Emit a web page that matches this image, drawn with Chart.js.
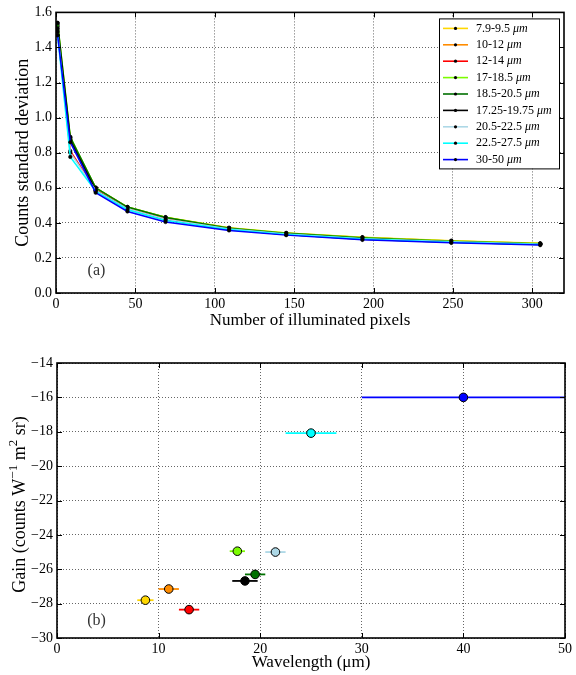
<!DOCTYPE html>
<html><head><meta charset="utf-8">
<script src="https://cdn.jsdelivr.net/npm/chart.js@4"></script>
<style>
html,body{margin:0;padding:0;background:#fff;}
#wrap{position:relative;width:576px;height:675px;background:#fff;}
canvas{position:absolute;left:0;}
#c1{top:0;} #c2{top:340px;}
</style></head><body>
<div id="wrap"><canvas id="c1" width="576" height="340"></canvas><canvas id="c2" width="576" height="335"></canvas></div>
<script>
// ---------- data ----------
const pixelCounts = [1, 9, 25, 45, 69, 109, 145, 193, 249, 305];
const bandLabels = ['7.9-9.5', '10-12', '12-14', '17-18.5', '18.5-20.5', '17.25-19.75', '20.5-22.5', '22.5-27.5', '30-50'];
const bandColors = ['#FFD700', '#FF8C00', '#FF0000', '#7CFC00', '#007000', '#000000', '#ADD8E6', '#00FFFF', '#0000FF'];
const std_7_9 = [1.52, 0.88, 0.600, 0.490, 0.432, 0.372, 0.342, 0.318, 0.298, 0.283];
const std_10_12 = [1.53, 0.875, 0.598, 0.488, 0.430, 0.370, 0.340, 0.316, 0.296, 0.282];
const std_12_14 = [1.50, 0.81, 0.588, 0.483, 0.425, 0.367, 0.338, 0.313, 0.294, 0.280];
const std_17_18 = [1.54, 0.89, 0.600, 0.490, 0.432, 0.371, 0.342, 0.317, 0.297, 0.282];
const std_18_20 = [1.54, 0.888, 0.600, 0.490, 0.430, 0.369, 0.340, 0.314, 0.294, 0.279];
const std_17_19 = [1.51, 0.87, 0.585, 0.478, 0.418, 0.362, 0.334, 0.306, 0.289, 0.276];
const std_20_22 = [1.49, 0.80, 0.585, 0.480, 0.420, 0.365, 0.336, 0.310, 0.292, 0.278];
const std_22_27 = [1.47, 0.776, 0.580, 0.475, 0.414, 0.362, 0.334, 0.308, 0.290, 0.277];
const std_30_50 = [1.47, 0.86, 0.572, 0.465, 0.405, 0.357, 0.330, 0.303, 0.286, 0.273];
const stdSeries = [std_7_9, std_10_12, std_12_14, std_17_18, std_18_20, std_17_19, std_20_22, std_22_27, std_30_50];
const bandLo = [7.9, 10, 12, 17, 18.5, 17.25, 20.5, 22.5, 30];
const bandHi = [9.5, 12, 14, 18.5, 20.5, 19.75, 22.5, 27.5, 50];
const gainValues = [-27.8, -27.15, -28.35, -24.95, -26.3, -26.68, -25.0, -18.08, -16.0];

// ---------- styling helpers ----------
const SERIF = '"Liberation Serif", "Times New Roman", serif';
Chart.defaults.font.family = SERIF;
Chart.defaults.color = '#000';

const framePlugin = {
  id: 'frame',
  afterDatasetsDraw(chart) {
    const ctx = chart.ctx, a = chart.chartArea;
    const xs = chart.scales.x, ys = chart.scales.y;
    ctx.save();
    ctx.strokeStyle = '#000';
    ctx.lineWidth = 1;
    const L = 5;
    xs.ticks.forEach(t => {
      const px = Math.round(xs.getPixelForValue(t.value)) + 0.5;
      ctx.beginPath();
      ctx.moveTo(px, a.bottom); ctx.lineTo(px, a.bottom - L);
      ctx.moveTo(px, a.top); ctx.lineTo(px, a.top + L);
      ctx.stroke();
    });
    ys.ticks.forEach(t => {
      const py = Math.round(ys.getPixelForValue(t.value)) + 0.5;
      ctx.beginPath();
      ctx.moveTo(a.left, py); ctx.lineTo(a.left + L, py);
      ctx.moveTo(a.right, py); ctx.lineTo(a.right - L, py);
      ctx.stroke();
    });
    ctx.lineWidth = 1.6;
    ctx.strokeRect(a.left, a.top, a.right - a.left, a.bottom - a.top);
    const opt = chart.options.plugins.frame || {};
    // panel label
    if (opt.text) {
      ctx.fillStyle = '#333';
      ctx.font = '16px ' + SERIF;
      ctx.textAlign = 'center';
      ctx.textBaseline = 'middle';
      ctx.fillText(opt.text, xs.getPixelForValue(opt.x), ys.getPixelForValue(opt.y));
    }
    // custom y title with superscripts
    if (opt.yTitle) {
      const segs = opt.yTitle;
      const fMain = '18px ' + SERIF, fSup = '13px ' + SERIF;
      let total = 0;
      segs.forEach(s => { ctx.font = s.sup ? fSup : fMain; s.w = ctx.measureText(s.t).width; total += s.w; });
      ctx.save();
      ctx.translate(opt.yTitleX, (a.top + a.bottom) / 2 + 4);
      ctx.rotate(-Math.PI / 2);
      ctx.fillStyle = '#000';
      ctx.textAlign = 'left';
      ctx.textBaseline = 'middle';
      let x = -total / 2;
      segs.forEach(s => {
        ctx.font = s.sup ? fSup : fMain;
        ctx.fillText(s.t, x, s.sup ? -6 : 0);
        x += s.w;
      });
      ctx.restore();
    }
    ctx.restore();
  }
};

const legendPlugin = {
  id: 'boxLegend',
  afterDraw(chart) {
    const ctx = chart.ctx, a = chart.chartArea;
    const w = 120, h = 150;
    const left = a.right - 125, top = a.top + 6;
    ctx.save();
    ctx.fillStyle = '#fff';
    ctx.fillRect(left, top, w, h);
    ctx.strokeStyle = '#000';
    ctx.lineWidth = 1;
    ctx.strokeRect(left + 0.5, top + 0.5, w, h);
    chart.data.datasets.forEach((ds, i) => {
      const y = top + 10 + i * 16.4;
      ctx.strokeStyle = ds.borderColor;
      ctx.lineWidth = 1.6;
      ctx.beginPath();
      ctx.moveTo(left + 4, y); ctx.lineTo(left + 29, y);
      ctx.stroke();
      ctx.fillStyle = '#000';
      ctx.beginPath();
      ctx.arc(left + 16.5, y, 1.6, 0, Math.PI * 2);
      ctx.fill();
      ctx.textBaseline = 'middle';
      ctx.textAlign = 'left';
      ctx.font = '12px ' + SERIF;
      const t1 = ds.label + ' ';
      ctx.fillText(t1, left + 37, y);
      const tw = ctx.measureText(t1).width;
      ctx.font = 'italic 12px ' + SERIF;
      ctx.fillText('\u03BCm', left + 37 + tw, y);
    });
    ctx.restore();
  }
};

const gridCommon = { color: 'rgba(0,0,0,0.6)', lineWidth: 1, drawTicks: false };

// ---------- chart (a) ----------
new Chart(document.getElementById('c1'), {
  type: 'line',
  data: {
    datasets: stdSeries.map((vals, i) => ({
      label: bandLabels[i],
      data: pixelCounts.map((x, j) => ({ x: x, y: vals[j] })),
      borderColor: bandColors[i],
      backgroundColor: bandColors[i],
      borderWidth: 1.5,
      pointRadius: 1.8,
      pointBackgroundColor: '#000',
      pointBorderColor: '#000',
      pointBorderWidth: 0.5,
      tension: 0,
      fill: false,
      order: stdSeries.length - 1 - i
    }))
  },
  options: {
    responsive: false, animation: false, devicePixelRatio: 1,
    layout: { padding: { top: 10, right: 12, left: 0, bottom: 0 } },
    plugins: { legend: { display: false }, tooltip: { enabled: false },
      frame: { text: '(a)', x: 25.5, y: 0.127 } },
    scales: {
      x: {
        type: 'linear', min: 0, max: 320,
        afterFit: s => { s.height = 47; },
        grid: gridCommon,
        border: { display: false, dash: [1, 2] },
        ticks: { stepSize: 50, includeBounds: false, padding: 3, maxRotation: 0,
          font: { size: 14 }, callback: v => String(v) },
        title: { display: true, text: 'Number of illuminated pixels', font: { size: 17 },
          padding: { top: 0, bottom: 9 } }
      },
      y: {
        type: 'linear', min: 0, max: 1.6,
        afterFit: s => { s.width = 56; },
        grid: gridCommon,
        border: { display: false, dash: [1, 2] },
        ticks: { stepSize: 0.2, padding: 4, font: { size: 14 }, callback: v => v.toFixed(1) },
        title: { display: true, text: 'Counts standard deviation', font: { size: 18 },
          padding: { top: 12, bottom: 0 } }
      }
    }
  },
  plugins: [framePlugin, legendPlugin]
});

// ---------- chart (b) ----------
new Chart(document.getElementById('c2'), {
  type: 'line',
  data: {
    datasets: gainValues.map((g, i) => ({
      label: bandLabels[i],
      data: [
        { x: bandLo[i], y: g },
        { x: (bandLo[i] + bandHi[i]) / 2, y: g },
        { x: bandHi[i], y: g }
      ],
      borderColor: bandColors[i],
      backgroundColor: bandColors[i],
      borderWidth: 1.8,
      pointRadius: [0, 4.3, 0],
      pointBackgroundColor: bandColors[i],
      pointBorderColor: '#000',
      pointBorderWidth: 1,
      tension: 0,
      fill: false
    }))
  },
  options: {
    responsive: false, animation: false, devicePixelRatio: 1,
    layout: { padding: { top: 23, right: 11, left: 0, bottom: 0 } },
    plugins: { legend: { display: false }, tooltip: { enabled: false },
      frame: { text: '(b)', x: 3.9, y: -29.0, yTitleX: 20,
        yTitle: [ { t: 'Gain (counts W' }, { t: '\u22121', sup: true }, { t: ' m' }, { t: '2', sup: true }, { t: ' sr)' } ] } },
    scales: {
      x: {
        type: 'linear', min: 0, max: 50,
        afterFit: s => { s.height = 37; },
        grid: gridCommon,
        border: { display: false, dash: [1, 2] },
        ticks: { stepSize: 10, padding: 3, maxRotation: 0, font: { size: 14 }, callback: v => String(v) },
        title: { display: true, text: 'Wavelength (\u03BCm)', font: { size: 17 },
          padding: { top: 0, bottom: 2 } }
      },
      y: {
        type: 'linear', min: -30, max: -14,
        afterFit: s => { s.width = 57; },
        grid: gridCommon,
        border: { display: false, dash: [1, 2] },
        ticks: { stepSize: 2, padding: 4, font: { size: 14 },
          callback: v => (v < 0 ? '\u2212' : '') + Math.abs(v) },
        title: { display: false }
      }
    }
  },
  plugins: [framePlugin]
});
</script>
</body></html>
